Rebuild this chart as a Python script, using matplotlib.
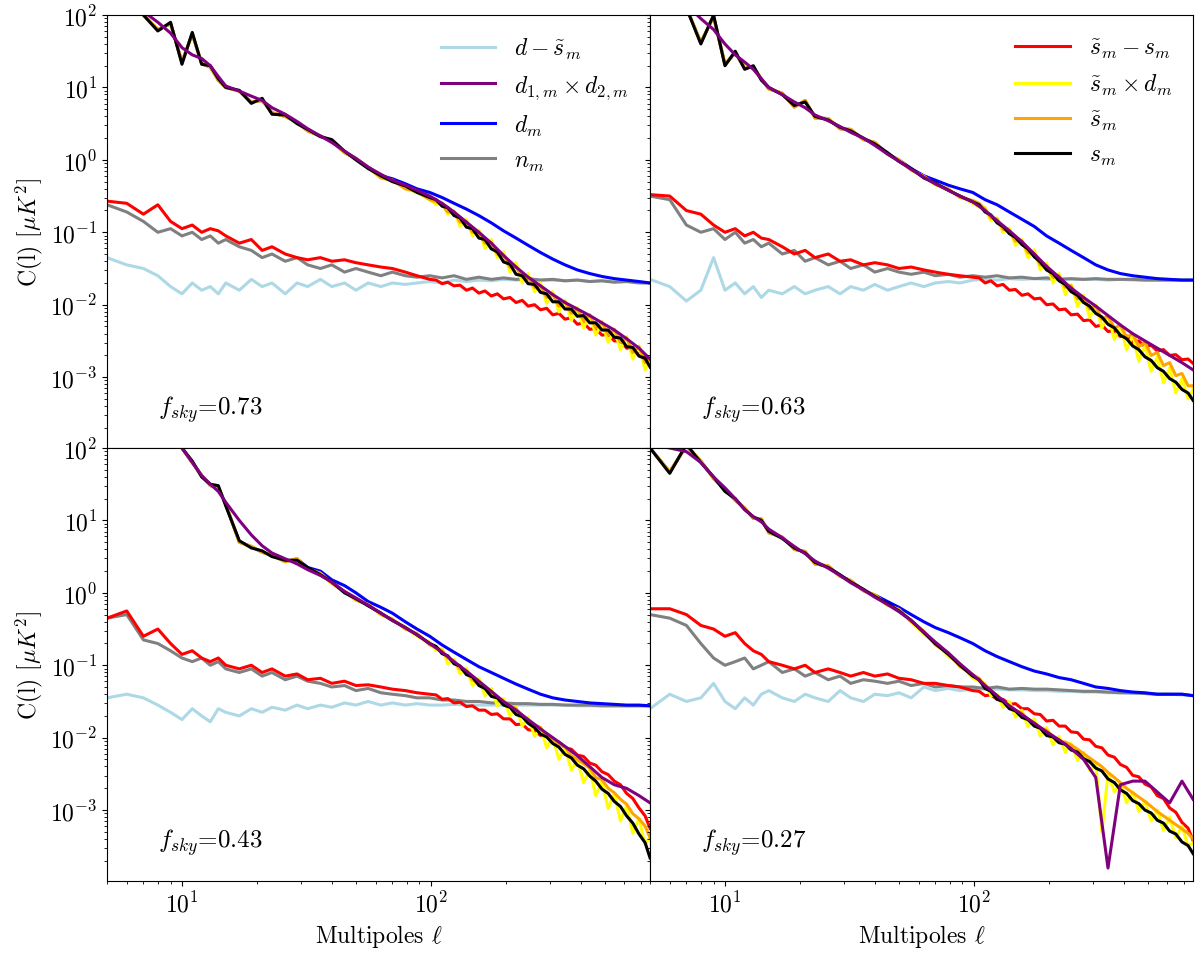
import numpy as np
import matplotlib
matplotlib.use('Agg')
import matplotlib.pyplot as plt
from matplotlib.ticker import FixedLocator, LogLocator, NullFormatter

plt.rcParams['font.family'] = 'serif'
plt.rcParams['font.serif'] = ['cmr10', 'DejaVu Serif']
plt.rcParams['mathtext.fontset'] = 'cm'
plt.rcParams['axes.formatter.use_mathtext'] = True
plt.rcParams['axes.unicode_minus'] = False

ell = [5, 6, 7, 8, 9, 10, 11, 12, 13, 14, 15,
       17, 19, 21, 23, 26, 29, 32, 36, 40,
       45, 50, 56, 63, 70, 79, 88, 99,
       111, 124, 139, 156, 175, 196, 220, 246,
       276, 309, 346, 388, 435, 487, 546, 612, 686, 760]
# the noisy ones (s, s~, s~xd, s~-s) are read more densely above l=100
ell_hi = [105, 111, 117, 124, 131, 139, 147, 156, 165, 175,
          185, 196, 208, 220, 233, 246, 261, 276, 292, 309,
          327, 346, 367, 388, 411, 435, 460, 487, 516, 546,
          578, 612, 648, 686, 726, 760]
ell_n = ell[:28] + ell_hi

fsky = [0.73, 0.63, 0.43, 0.27]

# all values below are log10 C(l) in muK^2
# ---- f_sky = 0.73
s_a = [2.5, 2.3, 2.0, 1.78, 1.9, 1.32, 1.76, 1.32, 1.3, 1.12, 1.0,
       0.96, 0.78, 0.85, 0.63, 0.62, 0.5, 0.42, 0.32, 0.28,
       0.12, 0.0, -0.12, -0.22, -0.3, -0.36, -0.45, -0.52,
       -0.55, -0.64, -0.66, -0.77, -0.8, -0.93, -0.95, -1.08, -1.1, -1.23,
       -1.27, -1.41, -1.44, -1.58, -1.6, -1.71, -1.72, -1.83, -1.85, -1.96,
       -1.96, -2.06, -2.06, -2.16, -2.15, -2.25, -2.25, -2.35, -2.35, -2.45,
       -2.46, -2.58, -2.59, -2.71, -2.74, -2.86]
st_a = [2.5, 2.3, 2.0, 1.8, 1.88, 1.35, 1.74, 1.33, 1.28, 1.1, 1.0,
        0.95, 0.8, 0.82, 0.65, 0.6, 0.52, 0.4, 0.33, 0.26,
        0.1, 0.02, -0.1, -0.25, -0.28, -0.4, -0.43, -0.55,
        -0.58, -0.62, -0.72, -0.72, -0.86, -0.85, -1.0, -1.0, -1.15, -1.14,
        -1.3, -1.32, -1.48, -1.48, -1.62, -1.62, -1.76, -1.74, -1.9, -1.86,
        -2.02, -1.96, -2.12, -2.06, -2.22, -2.14, -2.32, -2.24, -2.42, -2.34,
        -2.52, -2.46, -2.66, -2.58, -2.8, -2.76]
stxd_a = [2.5, 2.3, 2.0, 1.8, 1.88, 1.35, 1.74, 1.33, 1.28, 1.1, 1.0,
          0.95, 0.8, 0.82, 0.65, 0.6, 0.52, 0.4, 0.33, 0.26,
          0.1, 0.02, -0.1, -0.25, -0.28, -0.4, -0.45, -0.55,
          -0.62, -0.6, -0.75, -0.7, -0.92, -0.82, -1.05, -0.97, -1.22, -1.1,
          -1.35, -1.27, -1.55, -1.42, -1.7, -1.57, -1.82, -1.7, -1.98, -1.82,
          -2.1, -1.94, -2.22, -2.04, -2.32, -2.14, -2.42, -2.24, -2.52, -2.34,
          -2.62, -2.44, -2.75, -2.57, -2.9, -2.77]
ss_a = [-0.57, -0.6, -0.75, -0.62, -0.85, -0.95, -0.9, -1.0, -0.95, -0.98, -1.05,
        -1.15, -1.1, -1.25, -1.2, -1.3, -1.35, -1.38, -1.35, -1.4,
        -1.38, -1.42, -1.45, -1.48, -1.5, -1.55, -1.6, -1.65,
        -1.66, -1.71, -1.69, -1.74, -1.73, -1.8, -1.77, -1.84, -1.81, -1.88,
        -1.85, -1.92, -1.9, -1.97, -1.94, -2.02, -2.0, -2.07, -2.05, -2.14,
        -2.12, -2.2, -2.18, -2.27, -2.25, -2.34, -2.33, -2.42, -2.41, -2.5,
        -2.5, -2.6, -2.6, -2.7, -2.72, -2.82]
d12_a = [2.5, 2.25, 2.05, 1.9, 1.75, 1.55, 1.45, 1.4, 1.3, 1.15, 1.02,
         0.95, 0.88, 0.82, 0.72, 0.63, 0.53, 0.43, 0.33, 0.24,
         0.12, 0.02, -0.1, -0.2, -0.28, -0.35, -0.42, -0.5,
         -0.6, -0.72, -0.86, -1.0, -1.15, -1.32, -1.48, -1.62,
         -1.74, -1.86, -1.97, -2.06, -2.15, -2.25, -2.35, -2.47, -2.6, -2.75]
d_a = [2.5, 2.3, 2.0, 1.8, 1.88, 1.35, 1.74, 1.33, 1.28, 1.1, 1.0,
       0.95, 0.8, 0.82, 0.65, 0.6, 0.52, 0.4, 0.33, 0.26,
       0.1, 0.02, -0.1, -0.22, -0.26, -0.33, -0.4, -0.45,
       -0.52, -0.6, -0.68, -0.77, -0.87, -0.98, -1.08, -1.18,
       -1.28, -1.37, -1.45, -1.52, -1.57, -1.61, -1.64, -1.66, -1.68, -1.7]
n_a = [-0.62, -0.72, -0.85, -1.0, -0.95, -1.05, -1.0, -1.1, -1.05, -1.15, -1.1,
       -1.2, -1.25, -1.35, -1.3, -1.4, -1.35, -1.45, -1.5, -1.45,
       -1.55, -1.5, -1.55, -1.6, -1.55, -1.6, -1.62, -1.6,
       -1.63, -1.6, -1.65, -1.62, -1.65, -1.63, -1.65, -1.64,
       -1.66, -1.65, -1.67, -1.66, -1.68, -1.67, -1.69, -1.68, -1.7, -1.7]
res_a = [-1.35, -1.45, -1.5, -1.6, -1.75, -1.85, -1.7, -1.8, -1.75, -1.85, -1.7,
         -1.8, -1.65, -1.75, -1.7, -1.85, -1.7, -1.75, -1.65, -1.75,
         -1.7, -1.8, -1.7, -1.75, -1.7, -1.72, -1.7, -1.68,
         -1.7, -1.66, -1.68, -1.66, -1.67, -1.65, -1.66, -1.65,
         -1.66, -1.66, -1.67, -1.66, -1.68, -1.67, -1.68, -1.68, -1.69, -1.7]

# ---- f_sky = 0.63
s_b = [2.6, 2.4, 2.1, 1.6, 2.0, 1.3, 1.5, 1.25, 1.3, 1.1, 1.0,
       0.9, 0.75, 0.8, 0.6, 0.55, 0.45, 0.4, 0.3, 0.22,
       0.1, -0.02, -0.12, -0.25, -0.32, -0.42, -0.5, -0.58,
       -0.62, -0.72, -0.76, -0.87, -0.92, -1.02, -1.07, -1.17, -1.23, -1.34,
       -1.41, -1.52, -1.57, -1.67, -1.72, -1.82, -1.87, -1.97, -2.02, -2.12,
       -2.17, -2.27, -2.32, -2.42, -2.47, -2.57, -2.62, -2.72, -2.77, -2.87,
       -2.92, -3.02, -3.07, -3.17, -3.22, -3.32]
st_b = [2.6, 2.4, 2.1, 1.62, 1.98, 1.32, 1.48, 1.27, 1.28, 1.12, 0.98,
        0.92, 0.73, 0.82, 0.58, 0.57, 0.43, 0.42, 0.28, 0.24,
        0.08, 0.0, -0.14, -0.23, -0.34, -0.4, -0.52, -0.56,
        -0.6, -0.68, -0.8, -0.82, -0.96, -0.98, -1.12, -1.12, -1.28, -1.3,
        -1.45, -1.46, -1.62, -1.6, -1.76, -1.74, -1.92, -1.9, -2.06, -2.02,
        -2.2, -2.16, -2.32, -2.28, -2.45, -2.4, -2.58, -2.52, -2.7, -2.66,
        -2.84, -2.8, -2.98, -2.95, -3.12, -3.12]
stxd_b = [2.6, 2.4, 2.1, 1.62, 1.98, 1.32, 1.48, 1.27, 1.28, 1.12, 0.98,
          0.92, 0.73, 0.82, 0.58, 0.57, 0.43, 0.42, 0.28, 0.24,
          0.08, 0.0, -0.14, -0.23, -0.34, -0.42, -0.5, -0.6,
          -0.65, -0.66, -0.84, -0.8, -1.0, -0.94, -1.18, -1.1, -1.35, -1.24,
          -1.52, -1.42, -1.7, -1.57, -1.86, -1.72, -2.02, -1.87, -2.18, -2.0,
          -2.32, -2.14, -2.48, -2.28, -2.62, -2.42, -2.78, -2.57, -2.92, -2.72,
          -3.08, -2.87, -3.22, -3.02, -3.3, -3.17]
ss_b = [-0.48, -0.5, -0.7, -0.75, -0.9, -1.0, -0.95, -1.05, -1.0, -1.08, -1.1,
        -1.2, -1.3, -1.25, -1.35, -1.3, -1.4, -1.38, -1.45, -1.42,
        -1.45, -1.5, -1.48, -1.52, -1.55, -1.58, -1.6, -1.62,
        -1.63, -1.7, -1.67, -1.74, -1.72, -1.8, -1.79, -1.87, -1.85, -1.92,
        -1.91, -2.0, -1.99, -2.07, -2.06, -2.14, -2.13, -2.22, -2.21, -2.3,
        -2.28, -2.37, -2.36, -2.44, -2.43, -2.52, -2.5, -2.58, -2.56, -2.64,
        -2.62, -2.7, -2.69, -2.76, -2.75, -2.81]
d12_b = [2.6, 2.4, 2.15, 1.95, 1.8, 1.6, 1.45, 1.35, 1.25, 1.12, 1.0,
         0.9, 0.8, 0.72, 0.62, 0.54, 0.46, 0.38, 0.3, 0.2,
         0.08, -0.02, -0.13, -0.24, -0.33, -0.42, -0.5, -0.58,
         -0.7, -0.84, -0.98, -1.13, -1.3, -1.47, -1.62, -1.77,
         -1.9, -2.02, -2.15, -2.28, -2.4, -2.5, -2.6, -2.7, -2.8, -2.9]
d_b = [2.6, 2.4, 2.1, 1.62, 1.98, 1.32, 1.48, 1.27, 1.28, 1.12, 0.98,
       0.92, 0.73, 0.82, 0.58, 0.57, 0.43, 0.42, 0.28, 0.24,
       0.08, 0.0, -0.12, -0.22, -0.28, -0.35, -0.4, -0.45,
       -0.55, -0.62, -0.72, -0.82, -0.92, -1.05, -1.15, -1.25,
       -1.35, -1.45, -1.52, -1.57, -1.6, -1.62, -1.64, -1.65, -1.66, -1.66]
n_b = [-0.5, -0.55, -0.9, -1.0, -0.95, -1.1, -1.0, -1.15, -1.1, -1.2, -1.15,
       -1.3, -1.25, -1.4, -1.35, -1.45, -1.4, -1.5, -1.45, -1.55,
       -1.5, -1.55, -1.58, -1.55, -1.6, -1.58, -1.62, -1.6,
       -1.62, -1.6, -1.63, -1.62, -1.64, -1.63, -1.65, -1.64,
       -1.65, -1.64, -1.65, -1.65, -1.65, -1.66, -1.66, -1.66, -1.66, -1.66]
res_b = [-1.65, -1.75, -1.95, -1.8, -1.35, -1.8, -1.7, -1.85, -1.75, -1.9, -1.8,
         -1.85, -1.75, -1.85, -1.8, -1.75, -1.85, -1.75, -1.8, -1.72,
         -1.8, -1.75, -1.7, -1.75, -1.7, -1.68, -1.7, -1.66,
         -1.65, -1.66, -1.64, -1.65, -1.64, -1.65, -1.64, -1.65,
         -1.65, -1.65, -1.66, -1.65, -1.66, -1.66, -1.66, -1.66, -1.66, -1.66]

# ---- f_sky = 0.43
s_c = [3.0, 2.8, 2.6, 2.4, 2.2, 2.0, 1.82, 1.6, 1.5, 1.48, 1.2,
       0.72, 0.62, 0.58, 0.5, 0.45, 0.45, 0.35, 0.25, 0.15,
       0.0, -0.08, -0.18, -0.28, -0.38, -0.48, -0.58, -0.7,
       -0.74, -0.84, -0.87, -0.98, -1.01, -1.13, -1.16, -1.28, -1.32, -1.43,
       -1.45, -1.55, -1.58, -1.68, -1.71, -1.8, -1.86, -1.95, -1.99, -2.08,
       -2.13, -2.23, -2.28, -2.38, -2.43, -2.53, -2.6, -2.71, -2.77, -2.88,
       -2.95, -3.08, -3.18, -3.33, -3.45, -3.66]
st_c = [3.0, 2.8, 2.6, 2.4, 2.2, 2.0, 1.8, 1.62, 1.48, 1.46, 1.22,
        0.7, 0.64, 0.56, 0.52, 0.43, 0.47, 0.33, 0.27, 0.13,
        0.02, -0.1, -0.16, -0.3, -0.36, -0.5, -0.56, -0.72,
        -0.75, -0.8, -0.9, -0.95, -1.05, -1.08, -1.2, -1.25, -1.3, -1.38,
        -1.45, -1.52, -1.56, -1.6, -1.7, -1.78, -1.82, -1.86, -1.98, -2.02,
        -2.08, -2.13, -2.25, -2.3, -2.36, -2.42, -2.55, -2.58, -2.7, -2.76,
        -2.85, -2.92, -3.05, -3.12, -3.22, -3.38]
stxd_c = [3.0, 2.8, 2.6, 2.4, 2.2, 2.0, 1.8, 1.62, 1.48, 1.46, 1.22,
          0.7, 0.64, 0.56, 0.52, 0.43, 0.47, 0.33, 0.27, 0.13,
          0.02, -0.1, -0.16, -0.3, -0.38, -0.47, -0.6, -0.68,
          -0.8, -0.77, -0.98, -0.92, -1.12, -1.04, -1.28, -1.18, -1.42, -1.32,
          -1.56, -1.46, -1.7, -1.58, -1.84, -1.72, -1.98, -1.86, -2.14, -2.0,
          -2.3, -2.14, -2.45, -2.3, -2.62, -2.44, -2.8, -2.6, -2.98, -2.77,
          -3.15, -2.94, -3.32, -3.12, -3.48, -3.37]
ss_c = [-0.35, -0.25, -0.6, -0.5, -0.7, -0.85, -0.8, -0.9, -0.95, -0.9, -1.0,
        -1.05, -1.0, -1.1, -1.05, -1.15, -1.12, -1.2, -1.18, -1.25,
        -1.22, -1.28, -1.27, -1.3, -1.33, -1.35, -1.38, -1.4,
        -1.41, -1.47, -1.46, -1.52, -1.51, -1.57, -1.56, -1.62, -1.62, -1.68,
        -1.67, -1.74, -1.74, -1.82, -1.81, -1.89, -1.9, -1.97, -1.97, -2.05,
        -2.06, -2.14, -2.16, -2.24, -2.26, -2.35, -2.38, -2.47, -2.51, -2.6,
        -2.65, -2.77, -2.84, -2.97, -3.08, -3.25]
d12_c = [3.0, 2.8, 2.6, 2.4, 2.2, 2.0, 1.8, 1.62, 1.5, 1.4, 1.25,
         1.0, 0.8, 0.65, 0.55, 0.47, 0.4, 0.32, 0.24, 0.15,
         0.02, -0.07, -0.17, -0.28, -0.38, -0.48, -0.58, -0.7,
         -0.82, -0.95, -1.08, -1.22, -1.36, -1.5, -1.62, -1.75,
         -1.88, -2.0, -2.12, -2.25, -2.4, -2.55, -2.65, -2.7, -2.8, -2.9]
d_c = [3.0, 2.8, 2.6, 2.4, 2.2, 2.0, 1.8, 1.62, 1.48, 1.46, 1.22,
       0.7, 0.64, 0.56, 0.52, 0.43, 0.47, 0.35, 0.3, 0.18,
       0.1, 0.0, -0.12, -0.2, -0.28, -0.4, -0.5, -0.6,
       -0.72, -0.82, -0.92, -1.02, -1.1, -1.18, -1.26, -1.33,
       -1.4, -1.45, -1.48, -1.5, -1.52, -1.53, -1.54, -1.55, -1.55, -1.56]
n_c = [-0.35, -0.3, -0.65, -0.7, -0.8, -0.9, -0.95, -0.9, -1.0, -0.95, -1.05,
       -1.1, -1.05, -1.15, -1.1, -1.2, -1.15, -1.22, -1.25, -1.3,
       -1.28, -1.35, -1.32, -1.38, -1.4, -1.42, -1.45, -1.45,
       -1.48, -1.48, -1.5, -1.5, -1.52, -1.52, -1.53, -1.53,
       -1.54, -1.54, -1.55, -1.55, -1.55, -1.56, -1.56, -1.56, -1.56, -1.56]
res_c = [-1.45, -1.4, -1.45, -1.55, -1.65, -1.75, -1.6, -1.7, -1.78, -1.6, -1.65,
         -1.7, -1.6, -1.65, -1.58, -1.62, -1.55, -1.6, -1.55, -1.58,
         -1.52, -1.55, -1.5, -1.55, -1.52, -1.55, -1.53, -1.55,
         -1.55, -1.54, -1.55, -1.55, -1.55, -1.55, -1.55, -1.55,
         -1.55, -1.55, -1.55, -1.56, -1.56, -1.56, -1.56, -1.56, -1.56, -1.56]

# ---- f_sky = 0.27
s_d = [2.0, 1.65, 2.05, 1.8, 1.6, 1.4, 1.3, 1.15, 1.05, 1.0, 0.85,
       0.75, 0.62, 0.55, 0.42, 0.35, 0.25, 0.15, 0.05, -0.05,
       -0.15, -0.25, -0.38, -0.55, -0.7, -0.85, -1.0, -1.15,
       -1.2, -1.32, -1.36, -1.47, -1.5, -1.6, -1.63, -1.72, -1.75, -1.84,
       -1.87, -1.97, -1.99, -2.07, -2.09, -2.17, -2.2, -2.29, -2.33, -2.42,
       -2.46, -2.57, -2.62, -2.72, -2.77, -2.87, -2.91, -3.0, -3.04, -3.14,
       -3.18, -3.29, -3.33, -3.44, -3.49, -3.6]
st_d = [2.0, 1.67, 2.03, 1.82, 1.58, 1.42, 1.28, 1.17, 1.03, 1.02, 0.83,
        0.77, 0.6, 0.57, 0.4, 0.37, 0.23, 0.17, 0.03, -0.03,
        -0.17, -0.23, -0.4, -0.53, -0.72, -0.83, -1.02, -1.13,
        -1.18, -1.28, -1.35, -1.42, -1.5, -1.56, -1.62, -1.66, -1.75, -1.8,
        -1.86, -1.9, -1.98, -2.05, -2.06, -2.1, -2.16, -2.22, -2.28, -2.34,
        -2.4, -2.48, -2.55, -2.62, -2.7, -2.76, -2.82, -2.88, -2.95, -3.02,
        -3.08, -3.14, -3.2, -3.26, -3.32, -3.4]
stxd_d = [2.0, 1.67, 2.03, 1.82, 1.58, 1.42, 1.28, 1.17, 1.03, 1.02, 0.83,
          0.77, 0.6, 0.57, 0.4, 0.37, 0.23, 0.17, 0.03, -0.03,
          -0.17, -0.23, -0.4, -0.57, -0.68, -0.88, -0.98, -1.18,
          -1.22, -1.25, -1.42, -1.4, -1.58, -1.5, -1.72, -1.62, -1.85, -1.74,
          -1.98, -1.86, -2.1, -1.98, -2.2, -2.08, -2.32, -2.2, -2.45, -2.36,
          -3.3, -2.5, -2.75, -2.62, -2.9, -2.75, -3.02, -2.88, -3.15, -3.0,
          -3.28, -3.1, -3.38, -3.22, -3.5, -3.45]
ss_d = [-0.22, -0.22, -0.3, -0.45, -0.5, -0.6, -0.55, -0.7, -0.8, -0.85, -0.95,
        -1.0, -1.05, -1.0, -1.1, -1.05, -1.1, -1.15, -1.1, -1.15,
        -1.12, -1.18, -1.2, -1.25, -1.25, -1.28, -1.3, -1.35,
        -1.36, -1.42, -1.41, -1.47, -1.47, -1.54, -1.53, -1.6, -1.6, -1.67,
        -1.68, -1.77, -1.76, -1.84, -1.84, -1.92, -1.93, -2.02, -2.03, -2.12,
        -2.14, -2.24, -2.27, -2.37, -2.41, -2.52, -2.54, -2.64, -2.68, -2.8,
        -2.84, -2.97, -3.03, -3.17, -3.25, -3.42]
d12_d = [2.05, 2.0, 1.95, 1.8, 1.6, 1.45, 1.3, 1.15, 1.05, 0.98, 0.88,
         0.76, 0.64, 0.54, 0.44, 0.34, 0.24, 0.14, 0.04, -0.06,
         -0.16, -0.26, -0.38, -0.54, -0.68, -0.83, -0.98, -1.13,
         -1.28, -1.42, -1.56, -1.68, -1.8, -1.92, -2.03, -2.15,
         -2.3, -2.55, -3.8, -2.65, -2.6, -2.6, -2.75, -2.9, -2.6, -2.85]
d_d = [2.0, 1.67, 2.03, 1.82, 1.58, 1.42, 1.28, 1.17, 1.03, 1.02, 0.83,
       0.77, 0.6, 0.57, 0.4, 0.37, 0.23, 0.17, 0.03, -0.03,
       -0.12, -0.2, -0.3, -0.4, -0.48, -0.55, -0.62, -0.7,
       -0.8, -0.88, -0.95, -1.02, -1.08, -1.12, -1.17, -1.2,
       -1.25, -1.3, -1.32, -1.35, -1.37, -1.38, -1.4, -1.4, -1.4, -1.42]
n_d = [-0.3, -0.35, -0.45, -0.7, -0.9, -1.0, -0.95, -0.9, -1.05, -1.0, -0.95,
       -1.1, -1.05, -1.15, -1.1, -1.2, -1.15, -1.25, -1.2, -1.22,
       -1.25, -1.22, -1.28, -1.25, -1.3, -1.28, -1.3, -1.3,
       -1.32, -1.3, -1.33, -1.32, -1.33, -1.33, -1.34, -1.35,
       -1.36, -1.36, -1.37, -1.38, -1.38, -1.39, -1.4, -1.4, -1.4, -1.42]
res_d = [-1.6, -1.4, -1.5, -1.45, -1.25, -1.5, -1.6, -1.45, -1.55, -1.4, -1.35,
         -1.45, -1.5, -1.4, -1.45, -1.5, -1.35, -1.45, -1.5, -1.4,
         -1.42, -1.38, -1.45, -1.3, -1.35, -1.32, -1.35, -1.33,
         -1.33, -1.33, -1.34, -1.34, -1.35, -1.35, -1.36, -1.36,
         -1.37, -1.37, -1.38, -1.38, -1.39, -1.39, -1.4, -1.4, -1.41, -1.42]

panels = [
    (s_a, st_a, stxd_a, ss_a, d12_a, d_a, n_a, res_a),
    (s_b, st_b, stxd_b, ss_b, d12_b, d_b, n_b, res_b),
    (s_c, st_c, stxd_c, ss_c, d12_c, d_c, n_c, res_c),
    (s_d, st_d, stxd_d, ss_d, d12_d, d_d, n_d, res_d),
]

fig, axes = plt.subplots(2, 2, sharex=True, sharey=True, figsize=(12, 9.54), dpi=100)
plt.subplots_adjust(left=0.0892, right=0.9942, top=0.9832, bottom=0.0755,
                    hspace=0, wspace=0)

lw = 2.2
for k, ax in enumerate(axes.flat):
    s, st, stxd, ss, d12, d, n, res = [10 ** np.array(v) for v in panels[k]]
    ax.plot(ell, res, color='lightblue', lw=lw, label=r'$d-\tilde{s}_m$')
    ax.plot(ell, n, color='gray', lw=lw, label=r'$n_m$')
    ax.plot(ell, d, color='blue', lw=lw, label=r'$d_m$')
    ax.plot(ell_n, ss, color='red', lw=lw, label=r'$\tilde{s}_m-s_m$')
    ax.plot(ell_n, stxd, color='yellow', lw=lw, label=r'$\tilde{s}_m\times d_m$')
    ax.plot(ell_n, st, color='orange', lw=lw, label=r'$\tilde{s}_m$')
    ax.plot(ell_n, s, color='black', lw=lw, label=r'$s_m$')
    ax.plot(ell, d12, color='purple', lw=lw, label=r'$d_{1,m}\times d_{2,m}$')
    ax.set_xscale('log')
    ax.set_yscale('log')
    ax.set_xlim(5, 760)
    ax.set_ylim(1.05e-4, 100)
    ax.tick_params(labelsize=17)
    ax.text(0.094, 0.08, r'$f_{sky}$=%.2f' % fsky[k], transform=ax.transAxes,
            fontsize=18)

axes[0, 0].yaxis.set_major_locator(FixedLocator([1e-3, 1e-2, 1e-1, 1, 10, 100]))
axes[0, 0].yaxis.set_minor_locator(LogLocator(base=10, subs=np.arange(2, 10), numticks=20))
axes[0, 0].yaxis.set_minor_formatter(NullFormatter())

# legends split over the two top panels
h, l = axes[0, 0].get_legend_handles_labels()
lab = dict(zip(l, h))
left_keys = [r'$d-\tilde{s}_m$', r'$d_{1,m}\times d_{2,m}$', r'$d_m$', r'$n_m$']
right_keys = [r'$\tilde{s}_m-s_m$', r'$\tilde{s}_m\times d_m$', r'$\tilde{s}_m$', r'$s_m$']
axes[0, 0].legend([lab[x] for x in left_keys], left_keys, loc='upper right',
                  frameon=False, fontsize=17, handlelength=2.3, labelspacing=0.5)
axes[0, 1].legend([lab[x] for x in right_keys], right_keys, loc='upper right',
                  frameon=False, fontsize=17, handlelength=2.3, labelspacing=0.5)

for ax in axes[:, 0]:
    ax.set_ylabel(r'C(l) $[\mu K^2]$', fontsize=17)
for ax in axes[1, :]:
    ax.set_xlabel(r'Multipoles $\ell$', fontsize=17)

plt.savefig('out.png', dpi=100)
